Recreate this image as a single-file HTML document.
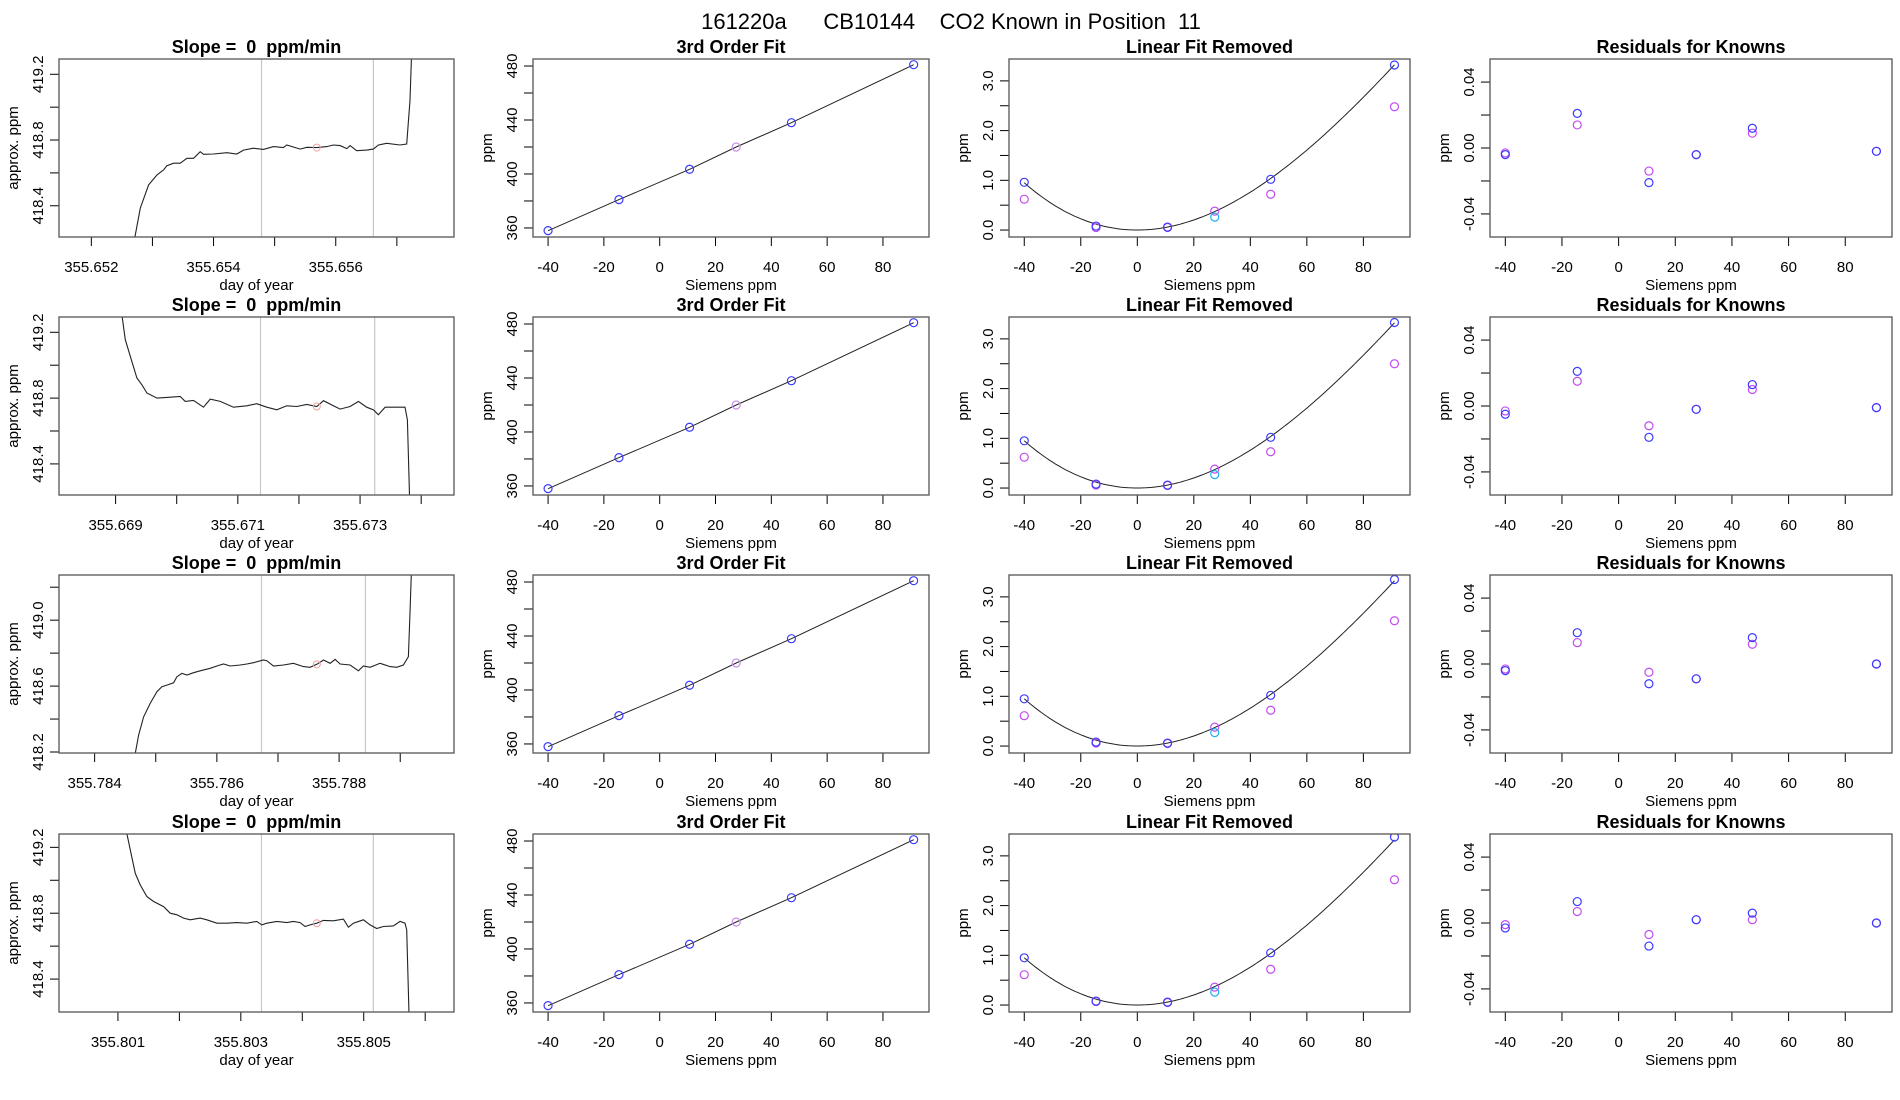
<!DOCTYPE html>
<html><head><meta charset="utf-8"><title>161220a CB10144 CO2 Known in Position 11</title>
<style>
html,body{margin:0;padding:0;background:#fff;}
svg{display:block;font-family:"Liberation Sans",Arial,sans-serif;}
text{white-space:pre;}
</style></head>
<body>
<svg id="fig" width="1900" height="1100" viewBox="0 0 1900 1100" xmlns="http://www.w3.org/2000/svg" xml:space="preserve">
<text x="951" y="29" font-size="22" text-anchor="middle" xml:space="preserve">161220a      CB10144    CO2 Known in Position  11</text>
</svg>
<script>
// ---- data ----
const siemensX = [-40.0, -14.6, 10.7, 27.4, 47.2, 91.0];
const fitY = [358, 381, 403.5, 420, 438, 481];
const fitTicksX = [-40, -20, 0, 20, 40, 60, 80];
const fitTicksY = [360, 380, 400, 420, 440, 460, 480];
const fitTickLabelsY = ["360", "", "400", "", "440", "", "480"];
const linTicksY = [0, 0.5, 1, 1.5, 2, 2.5, 3];
const linTickLabelsY = ["0.0", "", "1.0", "", "2.0", "", "3.0"];
const resTicksY = [-0.04, -0.02, 0, 0.02, 0.04];
const resTickLabelsY = ["-0.04", "", "0.00", "", "0.04"];
// cubic fit of linear-fit-removed residual: [c0,c1,c2,c3]
const linCurveCoef = [0.0, 0.0, 0.000535, -0.00000147];

const linBlue = [
  [0.96, 0.08, 0.06, null, 1.02, 3.32],
  [0.95, 0.08, 0.06, null, 1.02, 3.33],
  [0.95, 0.08, 0.06, null, 1.02, 3.35],
  [0.95, 0.08, 0.06, null, 1.05, 3.38]];
const linCyan = [0.26, 0.27, 0.27, 0.26];
const linPurple = [
  [0.62, 0.05, 0.05, 0.38, 0.72, 2.48],
  [0.62, 0.06, 0.05, 0.38, 0.73, 2.50],
  [0.61, 0.06, 0.05, 0.38, 0.72, 2.52],
  [0.61, 0.07, 0.05, 0.36, 0.72, 2.52]];
const resBlue = [
  [-0.004, 0.021, -0.021, -0.004, 0.012, -0.002],
  [-0.005, 0.021, -0.019, -0.002, 0.013, -0.001],
  [-0.004, 0.019, -0.012, -0.009, 0.016, 0.000],
  [-0.003, 0.013, -0.014, 0.002, 0.006, 0.000]];
const resPurple = [
  [-0.003, 0.014, -0.014, -0.004, 0.009, -0.002],
  [-0.003, 0.015, -0.012, -0.002, 0.010, -0.001],
  [-0.003, 0.013, -0.005, -0.009, 0.012, 0.000],
  [-0.001, 0.007, -0.007, 0.002, 0.002, 0.000]];

// time-series panels
const tsDays1 = [355.652698,355.652801,355.652937,355.653074,355.653183,355.653237,355.653346,355.653455,355.653564,355.653673,355.653782,355.653837,355.654000,355.654218,355.654381,355.654490,355.654654,355.654817,355.654981,355.655144,355.655199,355.655417,355.655526,355.655689,355.655853,355.655962,355.656071,355.656180,355.656234,355.656343,355.656507,355.656616,355.656698,355.656834,355.657052,355.657161,355.657215,355.657248];
const tsPpm1 = [418.18,418.386,418.527,418.588,418.618,418.644,418.659,418.659,418.689,418.689,418.729,418.713,418.715,418.723,418.715,418.739,418.750,418.743,418.760,418.754,418.770,418.745,418.756,418.754,418.760,418.770,418.766,418.748,418.766,418.735,418.739,418.745,418.770,418.780,418.770,418.776,419.042,419.40];
const tsDays2 = [355.669087,355.669158,355.669240,355.669349,355.669431,355.669512,355.669676,355.669839,355.670057,355.670139,355.670275,355.670439,355.670548,355.670711,355.670929,355.671147,355.671311,355.671474,355.671638,355.671801,355.671965,355.672128,355.672292,355.672401,355.672564,355.672673,355.672837,355.672973,355.673109,355.673218,355.673300,355.673409,355.673545,355.673736,355.673774,355.673817];
const tsPpm2 = [419.35,419.155,419.054,418.922,418.881,418.831,418.800,418.804,418.810,418.780,418.786,418.745,418.794,418.780,418.745,418.753,418.766,418.745,418.729,418.753,418.749,418.762,418.749,418.784,418.753,418.733,418.749,418.780,418.745,418.729,418.699,418.745,418.745,418.745,418.668,418.10];
const tsDays3 = [355.784654,355.784719,355.784801,355.784910,355.785019,355.785101,355.785183,355.785292,355.785346,355.785428,355.785510,355.785619,355.785728,355.785891,355.786000,355.786109,355.786218,355.786381,355.786490,355.786599,355.786763,355.786817,355.786926,355.787090,355.787253,355.787417,355.787526,355.787635,355.787744,355.787853,355.787935,355.788016,355.788180,355.788316,355.788398,355.788507,355.788670,355.788834,355.788943,355.789052,355.789134,355.789161,355.789188];
const tsPpm3 = [418.17,418.302,418.413,418.495,418.566,418.596,418.606,418.620,418.657,418.677,418.667,418.681,418.693,418.708,418.722,418.734,418.722,418.728,418.734,418.742,418.758,418.754,418.722,418.728,418.738,418.718,418.714,418.732,418.758,418.738,418.762,418.734,418.728,418.693,418.722,418.714,418.738,418.718,418.714,418.728,418.779,419.063,419.35];
const tsDays4 = [355.801136,355.801201,355.801282,355.801363,355.801472,355.801580,355.801743,355.801851,355.801959,355.802068,355.802176,355.802339,355.802447,355.802610,355.802772,355.802935,355.803098,355.803260,355.803341,355.803423,355.803585,355.803748,355.803856,355.803965,355.804046,355.804127,355.804236,355.804344,355.804507,355.804669,355.804751,355.804832,355.804995,355.805103,355.805211,355.805320,355.805482,355.805591,355.805672,355.805699,355.805743];
const tsPpm4 = [419.30,419.184,419.042,418.972,418.901,418.871,418.840,418.800,418.790,418.770,418.760,418.770,418.760,418.739,418.739,418.743,418.739,418.750,418.729,418.739,418.750,418.743,418.750,418.743,418.719,418.729,418.739,418.756,418.754,418.764,418.715,418.739,418.760,418.729,418.707,418.719,418.723,418.750,418.739,418.699,418.10];
const tsTickStart = [355.652, 355.669, 355.784, 355.801];
const tsGray = [[355.654785, 355.656616],[355.671371, 355.673240],[355.786730, 355.788431],[355.803336, 355.805157]];
const tsMarkDay = [355.655689, 355.672292, 355.787635, 355.804236];
const tsMarkPpm = [418.754, 418.749, 418.732, 418.739];
const tsDomX = [[355.651471, 355.657935],[355.668074, 355.674537],[355.783417, 355.789880],[355.800041, 355.806469]];
const tsDomY = [[418.21, 419.293],[418.211, 419.293],[418.194, 419.274],[418.200, 419.281]];
const tsTicksY = [[418.4,418.6,418.8,419.0,419.2],[418.4,418.6,418.8,419.0,419.2],[418.2,418.4,418.6,418.8,419.0,419.2],[418.4,418.6,418.8,419.0,419.2]];
const tsTickLabY = [["418.4","","418.8","","419.2"],["418.4","","418.8","","419.2"],["418.2","","418.6","","419.0",""],["418.4","","418.8","","419.2"]];

// ---- layout ----
const svg = document.getElementById('fig');
const NS = 'http://www.w3.org/2000/svg';
const colL = [59, 533, 1009, 1490], colW = [395, 396, 401, 402];
const rowT = [59, 317, 575, 834], rowH = [178, 178, 178, 178];
const BLUE = '#3a3aff', PURP = '#c24cf0', CYAN = '#1fb0f5', PLUM = '#c890e8';

function mk(tag, attrs, parent) {
  const e = document.createElementNS(NS, tag);
  for (const k in attrs) e.setAttribute(k, attrs[k]);
  (parent || svg).appendChild(e);
  return e;
}
function txt(parent, x, y, s, size, extra) {
  const t = mk('text', Object.assign({x: x, y: y, 'font-size': size, 'text-anchor': 'middle'}, extra || {}), parent);
  t.textContent = s;
  return t;
}
function scale(d0, d1, r0, r1) { return v => r0 + (v - d0) / (d1 - d0) * (r1 - r0); }

let clipN = 0;
function panel(r, c, title, dx, dy, xticks, xlabs, yticks, ylabs, xlab, ylab) {
  const L = colL[c], T = rowT[r], W = colW[c], H = rowH[r];
  const g = mk('g', {});
  
  
  const sx = scale(dx[0], dx[1], L, L + W), sy = scale(dy[0], dy[1], T + H, T);
  const ti = txt(g, L + W / 2, T - 6, title, 18, {'font-weight': 'bold'});
  
  
  const ax = mk('g', {stroke: '#000', 'stroke-width': 1}, g);
  
  
  xticks.forEach((v, i) => {
    const x = sx(v);
    mk('line', {x1: x, x2: x, y1: T + H, y2: T + H + 9}, ax);
    if (xlabs[i]) {
      const t = txt(g, x, T + H + 35, xlabs[i], 15);
      
      
    }
  });
  const ay = mk('g', {stroke: '#000', 'stroke-width': 1}, g);
  
  
  yticks.forEach((v, i) => {
    const y = sy(v);
    mk('line', {x1: L - 9, x2: L, y1: y, y2: y}, ay);
    if (ylabs[i]) {
      const t = txt(g, L - 16, y, ylabs[i], 15, {transform: 'rotate(-90 ' + (L - 16) + ' ' + y + ')'});
      
      
    }
  });
  const xl = txt(g, L + W / 2, T + H + 53, xlab, 15);
  
  
  const yx = L - 41, yy = T + H / 2;
  const yl = txt(g, yx, yy, ylab, 15, {transform: 'rotate(-90 ' + yx + ' ' + yy + ')'});
  
  
  const id = 'clip' + (clipN++);
  const cp = mk('clipPath', {id: id}, g);
  mk('rect', {x: L, y: T, width: W, height: H}, cp);
  const plot = mk('g', {'clip-path': 'url(#' + id + ')'}, g);
  const box = mk('rect', {x: L, y: T, width: W, height: H, fill: 'none', stroke: '#555', 'stroke-width': 1.3}, g);
  
  
  return {plot: plot, sx: sx, sy: sy};
}
function circ(p, x, y, col, name) {
  const c = mk('circle', {cx: p.sx(x), cy: p.sy(y), r: 4, fill: 'none', stroke: col, 'stroke-width': 1.2}, p.plot);
  
  
}

const tsDays = [tsDays1, tsDays2, tsDays3, tsDays4];
const tsPpm = [tsPpm1, tsPpm2, tsPpm3, tsPpm4];
const fxt = ["-40", "-20", "0", "20", "40", "60", "80"];
const fitDomX = [-45.4, 96.5];

for (let r = 0; r < 4; r++) {
  const s = tsTickStart[r];
  const xt = [], xl = [];
  for (let k = 0; k < 6; k++) { xt.push(s + k * 0.001); xl.push(k % 2 === 0 ? (s + k * 0.001).toFixed(3) : ''); }
  const p1 = panel(r, 0, 'Slope =  0  ppm/min', tsDomX[r], tsDomY[r], xt, xl, tsTicksY[r], tsTickLabY[r], 'day of year', 'approx. ppm');
  tsGray[r].forEach(d => {
    const ln = mk('line', {x1: p1.sx(d), x2: p1.sx(d), y1: rowT[r], y2: rowT[r] + rowH[r], stroke: '#c8c8c8', 'stroke-width': 1.2}, p1.plot);
    
    
  });
  const pts = tsDays[r].map((d, i) => p1.sx(d).toFixed(1) + ',' + p1.sy(tsPpm[r][i]).toFixed(1)).join(' ');
  const pl = mk('polyline', {points: pts, fill: 'none', stroke: '#222', 'stroke-width': 1.1}, p1.plot);
  
  
  const mc = mk('circle', {cx: p1.sx(tsMarkDay[r]), cy: p1.sy(tsMarkPpm[r]), r: 3.5, fill: 'none', stroke: '#f4a0a0', 'stroke-width': 1}, p1.plot);
  
  

  const p2 = panel(r, 1, '3rd Order Fit', fitDomX, [353.3, 485.2], fitTicksX, fxt, fitTicksY, fitTickLabelsY, 'Siemens ppm', 'ppm');
  const fl = mk('polyline', {points: siemensX.map((x, i) => p2.sx(x).toFixed(1) + ',' + p2.sy(fitY[i]).toFixed(1)).join(' '), fill: 'none', stroke: '#222', 'stroke-width': 1}, p2.plot);
  
  
  siemensX.forEach((x, i) => circ(p2, x, fitY[i], i === 3 ? PLUM : BLUE, 'fit-point'));

  const p3 = panel(r, 2, 'Linear Fit Removed', fitDomX, [-0.14, 3.44], fitTicksX, fxt, linTicksY, linTickLabelsY, 'Siemens ppm', 'ppm');
  const cp = [];
  for (let x = -40; x <= 91.01; x += 1) {
    const y = linCurveCoef[0] + linCurveCoef[1] * x + linCurveCoef[2] * x * x + linCurveCoef[3] * x * x * x;
    cp.push(p3.sx(x).toFixed(1) + ',' + p3.sy(y).toFixed(1));
  }
  const cl = mk('polyline', {points: cp.join(' '), fill: 'none', stroke: '#222', 'stroke-width': 1}, p3.plot);
  
  
  siemensX.forEach((x, i) => circ(p3, x, linPurple[r][i], PURP, 'purple-point'));
  siemensX.forEach((x, i) => { if (linBlue[r][i] !== null) circ(p3, x, linBlue[r][i], BLUE, 'blue-point'); });
  circ(p3, siemensX[3], linCyan[r], CYAN, 'cyan-point');

  const p4 = panel(r, 3, 'Residuals for Knowns', fitDomX, [-0.054, 0.054], fitTicksX, fxt, resTicksY, resTickLabelsY, 'Siemens ppm', 'ppm');
  siemensX.forEach((x, i) => circ(p4, x, resPurple[r][i], PURP, 'residual-purple'));
  siemensX.forEach((x, i) => circ(p4, x, resBlue[r][i], BLUE, 'residual-blue'));
}
</script>
</body></html>
